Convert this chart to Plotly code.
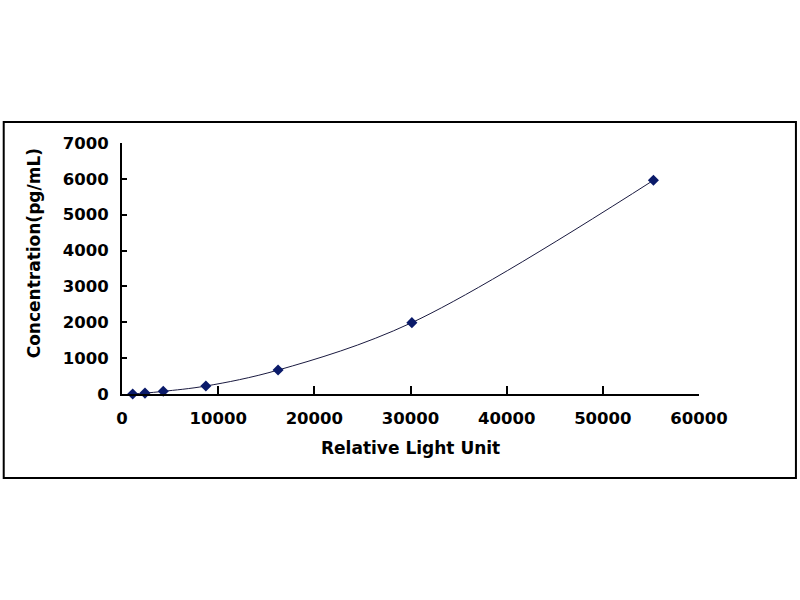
import plotly.graph_objects as go

# standard curve points
rlu = [1110, 2390, 4290, 8720, 16230, 30140, 55260]
conc = [0, 24.7, 74.1, 222.2, 666.7, 1990, 5960]

x_ticks = [0, 10000, 20000, 30000, 40000, 50000, 60000]
y_ticks = [0, 1000, 2000, 3000, 4000, 5000, 6000, 7000]

FONT = "DejaVu Sans"

fig = go.Figure()

fig.add_trace(go.Scatter(
    x=rlu,
    y=conc,
    mode='lines+markers',
    line=dict(color='#1a1a40', width=1, shape='spline', smoothing=1),
    marker=dict(symbol='diamond', size=8.5, color='#0a1a6a'),
    cliponaxis=False,
    showlegend=False,
))

axis_common = dict(
    showgrid=False,
    zeroline=False,
    showline=True,
    linecolor='black',
    linewidth=2,
    ticks='inside',
    tickcolor='black',
    tickwidth=1.5,
    tickformat='d',
    tickfont=dict(family=FONT, size=16.5, color='black', weight='bold'),
)

fig.update_xaxes(
    range=[0, 60000], tickvals=x_ticks, ticklen=8,
    ticklabelstandoff=8, **axis_common
)
fig.update_yaxes(
    range=[0, 7000], tickvals=y_ticks, ticklen=5,
    ticklabelstandoff=8, **axis_common
)

# axis titles placed as annotations to follow the original layout
fig.add_annotation(
    x=0.5, y=-0.215, xref='paper', yref='paper',
    text='<b>Relative Light Unit</b>', showarrow=False,
    font=dict(family=FONT, size=17, color='black'),
    xanchor='center', yanchor='middle'
)
fig.add_annotation(
    x=-0.151, y=0.56, xref='paper', yref='paper',
    text='<b>Concentration(pg/mL)</b>', showarrow=False, textangle=-90,
    font=dict(family=FONT, size=17, color='black'),
    xanchor='center', yanchor='middle'
)

# outer chart border
fig.add_shape(
    type='rect', xref='paper', yref='paper',
    x0=-0.205, x1=1.168, y0=-0.335, y1=1.084,
    line=dict(color='black', width=2), fillcolor='rgba(0,0,0,0)'
)

fig.update_layout(
    width=800,
    height=600,
    margin=dict(l=122, r=101, t=143, b=206),
    paper_bgcolor='white',
    plot_bgcolor='white',
)

# drop the default 8px page margin so the figure sits at the window corner
fig.write_html(
    "out.html",
    config={'displayModeBar': False},
    post_script="document.body.style.margin='0';",
)
